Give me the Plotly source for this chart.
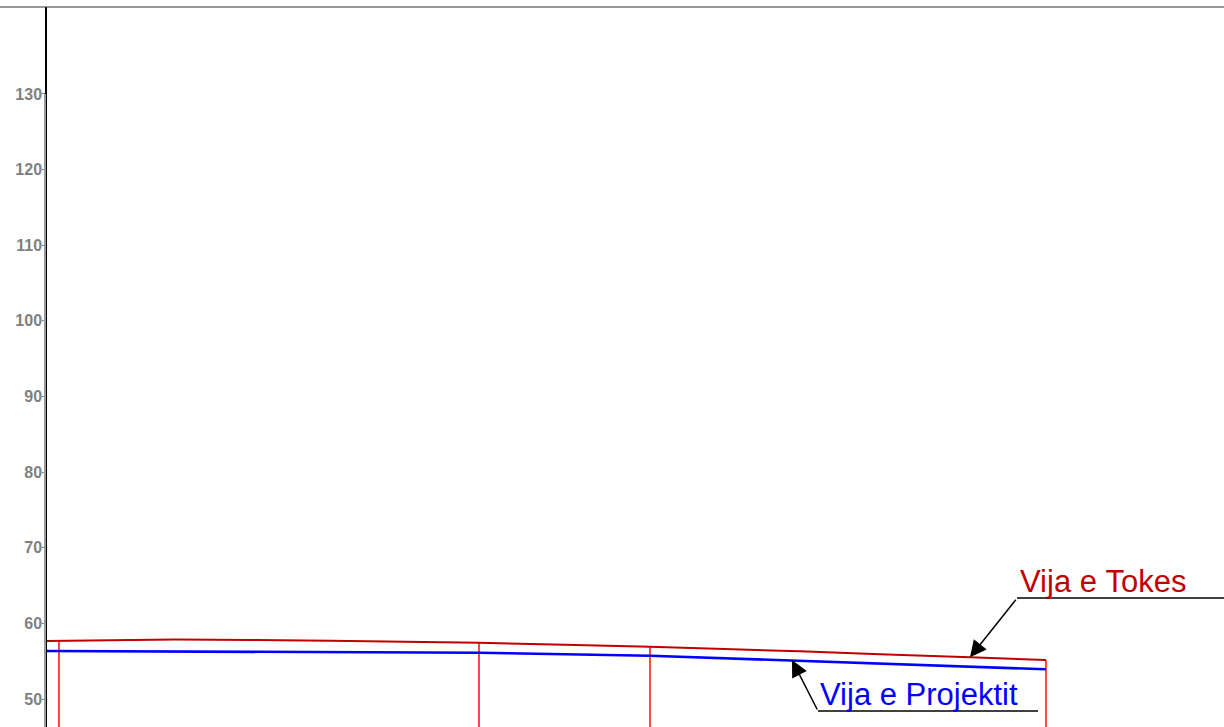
import plotly.graph_objects as go

# chainage (m) and elevations (m) read from the profile
terrain_x = [-3.0, 29.0, 67.75, 105.0, 147.75, 185.25, 205.25, 227.75, 246.75]
terrain_y = [57.67, 57.87, 57.72, 57.44, 56.92, 56.30, 55.91, 55.51, 55.16]

project_x = [-3.0, 105.0, 147.75, 246.75]
project_y = [56.35, 56.12, 55.73, 53.93]

stations = [0.0, 105.0, 147.75, 246.75]
station_top = [57.66, 57.44, 56.92, 55.16]

tick_vals = [50, 60, 70, 80, 90, 100, 110, 120, 130]

fig = go.Figure()

# vertical station lines
vx, vy = [], []
for s, top in zip(stations, station_top):
    vx += [s, s, None]
    vy += [top, 40, None]
fig.add_trace(go.Scatter(x=vx, y=vy, mode="lines",
                         line=dict(color="#ff1a1a", width=1.6), hoverinfo="skip"))

fig.add_trace(go.Scatter(x=terrain_x, y=terrain_y, mode="lines", name="Vija e Tokes",
                         line=dict(color="#c00000", width=2, shape="spline", smoothing=0.4)))
fig.add_trace(go.Scatter(x=project_x, y=project_y, mode="lines", name="Vija e Projektit",
                         line=dict(color="#0000ff", width=2.6)))

cad_font = "Liberation Sans, Arial"

# leader lines
fig.add_shape(type="line", x0=239.5, x1=300, y0=63.36, y1=63.36,
              line=dict(color="black", width=1.5))
fig.add_shape(type="line", x0=189.75, x1=244.75, y0=48.41, y1=48.41,
              line=dict(color="black", width=1.5))

fig.add_annotation(x=227.75, y=55.51, ax=47, ay=-59, showarrow=True, text="",
                   arrowhead=2, arrowsize=2.2, arrowwidth=1.5, arrowcolor="black")
fig.add_annotation(x=183.25, y=55.16, ax=26, ay=51, showarrow=True, text="",
                   arrowhead=2, arrowsize=2.2, arrowwidth=1.5, arrowcolor="black")

fig.add_annotation(x=239.75, y=63.36, text="Vija e\u00a0Tokes", showarrow=False,
                   xanchor="left", yanchor="bottom", yshift=-3,
                   font=dict(family=cad_font, size=31, color="#c00000", weight=300))
fig.add_annotation(x=189.75, y=48.41, text="Vija e\u00a0Projektit", showarrow=False,
                   xanchor="left", yanchor="bottom", yshift=-3,
                   font=dict(family=cad_font, size=31, color="#0000ff", weight=300))

# frame lines
fig.add_shape(type="line", xref="paper", yref="paper", x0=-47 / 1177, x1=1, y0=1, y1=1,
              line=dict(color="#333333", width=1.2))
fig.add_shape(type="line", xref="paper", yref="y", x0=-2 / 1177, x1=-2 / 1177, y0=130, y1=40,
              line=dict(color="#9a9a9a", width=2))

fig.update_layout(
    width=1224, height=727,
    margin=dict(l=47, r=0, t=7, b=0),
    plot_bgcolor="white", paper_bgcolor="white",
    showlegend=False,
    xaxis=dict(range=[-3.0, 291.25], showgrid=False, zeroline=False,
               showticklabels=False, ticks="", showline=False),
    yaxis=dict(range=[46.30, 141.50], tickvals=tick_vals, showgrid=False, zeroline=False,
               showline=True, linecolor="black", linewidth=1.5,
               ticks="outside", ticklen=3, tickcolor="#808080", ticklabelstandoff=-3,
               tickfont=dict(family="Liberation Sans, Arial", size=16, color="#808080", weight="bold")),
)

fig.write_html("out.html", config={"displayModeBar": False},
               post_script="document.body.style.margin='0';document.body.style.overflow='hidden';")
